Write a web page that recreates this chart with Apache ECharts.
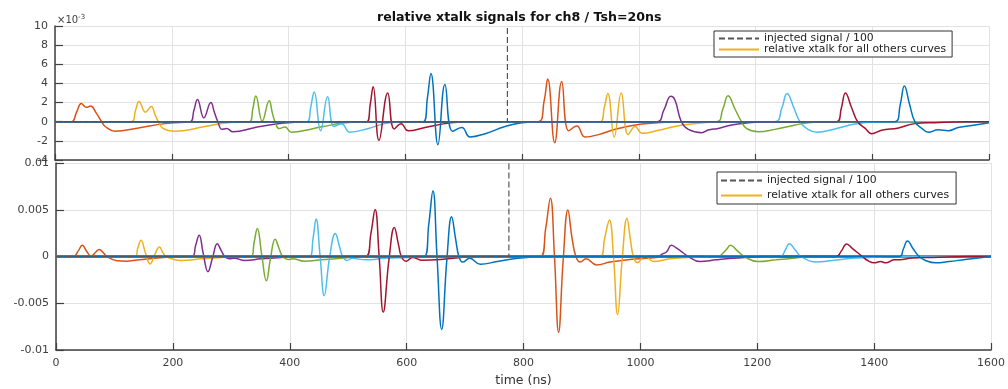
<!DOCTYPE html>
<html>
<head>
<meta charset="utf-8">
<script src="https://cdn.jsdelivr.net/npm/echarts@6/dist/echarts.min.js"></script>
<style>
html,body{margin:0;padding:0;background:#fff;}
#chart{width:1008px;height:389px;}
</style>
</head>
<body>
<div id="chart"></div>
<script>
// ---------------- DATA ----------------
const channelNames = ['ch1','ch2','ch3','ch4','ch5','ch6','ch7','ch9','ch10','ch11','ch12','ch13','ch14','ch15'];

// top panel values, in units of 1e-3
const top_ch1  = [[0,0],[28,0],[37,1.0],[45,1.9],[54,1.5],[61,1.65],[71,0.87],[80,0],[86,-0.5],[103,-1.0],[143,-0.65],[188,-0.2],[228,-0.05],[300,0],[1600,0]];
const top_ch2  = [[0,0],[131,0],[138,1.2],[144,2.1],[155,1.0],[165,1.6],[171,0.8],[177,0],[185,-0.7],[205,-1.0],[257,-0.5],[296,-0.1],[330,0],[1600,0]];
const top_ch3  = [[0,0],[231,0],[238,1.2],[244,2.33],[255,0.4],[267,2.0],[273,1.0],[279,0],[286,-0.8],[294,-0.7],[305,-1.06],[343,-0.6],[388,-0.17],[411,-0.05],[450,0],[1600,0]];
const top_ch4  = [[0,0],[333,0],[339,1.4],[344,2.68],[355,0.07],[367,2.2],[372,1.0],[377,0],[384,-0.72],[394,-0.55],[405,-1.1],[440,-0.75],[474,-0.33],[497,-0.1],[530,0],[1600,0]];
const top_ch5  = [[0,0],[432,0],[438,1.5],[444,3.1],[455,-0.95],[467,2.6],[478,-0.5],[491,-0.2],[505,-1.1],[537,-0.7],[565,-0.2],[588,-0.05],[620,0],[1600,0]];
const top_ch6  = [[0,0],[534,0],[540,1.8],[545,3.65],[555,-1.95],[570,3.0],[581,-0.75],[593,-0.2],[605,-0.95],[634,-0.6],[668,-0.2],[694,-0.05],[720,0],[1600,0]];
const top_ch7  = [[0,0],[631,0],[638,2.5],[644,5.04],[656,-2.4],[668,3.9],[681,-1.0],[697,-0.6],[711,-1.6],[737,-1.25],[771,-0.5],[800,-0.1],[830,0],[1600,0]];
const top_ch9  = [[0,0],[828,0],[838,2.2],[844,4.45],[856,-2.2],[868,4.2],[880,-0.95],[894,-0.45],[908,-1.6],[931,-1.35],[965,-0.7],[1005,-0.25],[1045,-0.05],[1080,0],[1600,0]];
const top_ch10 = [[0,0],[934,0],[941,1.5],[947,2.95],[958,-1.6],[970,3.0],[982,-1.35],[994,-0.5],[1006,-1.2],[1034,-0.9],[1062,-0.5],[1090,-0.25],[1120,-0.05],[1150,0],[1600,0]];
const top_ch11 = [[0,0],[1031,0],[1043,1.2],[1055,2.65],[1062,2.26],[1073,0],[1085,-0.8],[1108,-1.15],[1119,-0.87],[1136,-0.7],[1159,-0.35],[1188,-0.1],[1220,0],[1600,0]];
const top_ch12 = [[0,0],[1133,0],[1144,1.3],[1153,2.7],[1165,1.3],[1176,0],[1185,-0.72],[1205,-1.05],[1233,-0.8],[1268,-0.35],[1290,-0.1],[1320,0],[1600,0]];
const top_ch13 = [[0,0],[1233,0],[1245,1.4],[1254,2.95],[1266,1.4],[1276,0],[1288,-0.72],[1305,-1.1],[1336,-0.75],[1370,-0.25],[1393,-0.05],[1420,0],[1600,0]];
const top_ch14 = [[0,0],[1339,0],[1347,1.4],[1354,3.0],[1365,1.4],[1375,0],[1388,-0.7],[1399,-1.25],[1416,-0.9],[1445,-0.65],[1473,-0.2],[1507,-0.1],[1560,0],[1600,0]];
const top_ch15 = [[0,0],[1439,0],[1448,1.8],[1455,3.72],[1464,1.8],[1473,0],[1485,-0.7],[1496,-1.1],[1513,-0.85],[1530,-0.95],[1547,-0.6],[1576,-0.35],[1600,-0.1]];
const top_injected = [[0,0],[775,0],[775,100],[1600,100]];

// bottom panel values
const bot_ch1  = [[0,0],[30,0],[38,0.0006],[45,0.00119],[53,0.0005],[60,0.00004],[67,0.0004],[74,0.00076],[81,0.0004],[87,0],[104,-0.00045],[121,-0.0005],[135,-0.0004],[169,-0.0002],[198,-0.00005],[230,0],[1600,0]];
const bot_ch2  = [[0,0],[135,0],[140,0.0009],[145.5,0.00173],[153,0.0004],[161,-0.00079],[169,0.0002],[177,0.00101],[183,0.0004],[188,0],[198,-0.00025],[215,-0.00043],[249,-0.00025],[283,-0.0001],[320,0],[1600,0]];
const bot_ch3  = [[0,0],[233,0],[239,0.0012],[245,0.00227],[252,0.0003],[260,-0.00162],[268,-0.0001],[276,0.00137],[283,0.0006],[289,0],[297,-0.00025],[305,-0.00018],[323,-0.00043],[351,-0.00025],[385,-0.0001],[420,0],[1600,0]];
const bot_ch4  = [[0,0],[334,0],[339,0.0015],[344.5,0.003],[352,0.0002],[360,-0.0026],[367,-0.0002],[375,0.00184],[382,0.0008],[388,0],[397,-0.00032],[405,-0.00025],[425,-0.0005],[454,-0.00036],[488,-0.0002],[520,0],[1600,0]];
const bot_ch5  = [[0,0],[434,0],[440,0.002],[445,0.004],[452,0],[459,-0.0042],[468,-0.0002],[478,0.00245],[485,0.0011],[490.5,0],[498,-0.00043],[507,-0.0002],[530,-0.00036],[562,-0.0002],[601,-0.0001],[640,0],[1600,0]];
const bot_ch6  = [[0,0],[530,0],[539,0.0025],[546,0.00504],[553,0],[560,-0.00594],[570,-0.0002],[579,0.0031],[586,0.0013],[591,0],[599,-0.0005],[610,-0.0001],[627,-0.0004],[658,-0.00032],[692,-0.0001],[730,0],[1600,0]];
const bot_ch7  = [[0,0],[630,0],[638,0.0035],[645,0.00702],[652,0],[660,-0.0078],[669,-0.0002],[677,0.00425],[684,0.0018],[689.5,0],[696,-0.0006],[708,-0.0002],[726,-0.00082],[755,-0.00054],[783,-0.00025],[806,-0.0001],[840,0],[1600,0]];
const bot_ch9  = [[0,0],[829,0],[838,0.003],[846,0.00623],[853,0],[860,-0.0081],[868,-0.0003],[876,0.00497],[883,0.002],[889.6,0],[897,-0.0006],[907,-0.00025],[925,-0.0009],[948,-0.0006],[982,-0.00032],[1011,-0.0002],[1050,0],[1600,0]];
const bot_ch10 = [[0,0],[931,0],[939,0.002],[947,0.0039],[954,0],[961,-0.0062],[969,-0.0002],[977,0.0041],[983,0.0018],[988,0],[995,-0.00065],[1008,0.0001],[1022,-0.00054],[1051,-0.00025],[1080,-0.0001],[1110,0],[1600,0]];
const bot_ch11 = [[0,0],[1028,0],[1039,0.0003],[1045,0.0005],[1053,0.00119],[1062,0.0009],[1073,0.0004],[1082,0],[1102,-0.00054],[1130,-0.00036],[1158,-0.0002],[1181,-0.0001],[1210,0],[1600,0]];
const bot_ch12 = [[0,0],[1133,0],[1142,0.0004],[1148,0.0008],[1154,0.00119],[1166,0.0006],[1178,0],[1201,-0.00054],[1232,-0.00036],[1266,-0.00015],[1284,-0.00005],[1300,0],[1600,0]];
const bot_ch13 = [[0,0],[1239,0],[1248,0.0007],[1255,0.00137],[1265,0.0007],[1275,0],[1301,-0.0006],[1329,-0.00043],[1363,-0.0002],[1392,-0.0001],[1420,0],[1600,0]];
const bot_ch14 = [[0,0],[1335,0],[1344,0.0006],[1353,0.00134],[1363,0.00085],[1380,0],[1389,-0.00043],[1400,-0.00068],[1411,-0.00054],[1420,-0.00068],[1434,-0.00036],[1448,-0.00032],[1465,-0.00015],[1500,-0.0001],[1560,0],[1600,0]];
const bot_ch15 = [[0,0],[1443,0],[1450,0.0008],[1457,0.00166],[1467,0.0008],[1477,0],[1488,-0.00043],[1505,-0.00068],[1528,-0.00054],[1556,-0.00032],[1585,-0.0001],[1600,0]];
const bot_injected = [[0,0],[775,0],[775,1],[1600,1]];

const topSeriesData = [top_ch1,top_ch2,top_ch3,top_ch4,top_ch5,top_ch6,top_ch7,top_ch9,top_ch10,top_ch11,top_ch12,top_ch13,top_ch14,top_ch15];
const botSeriesData = [bot_ch1,bot_ch2,bot_ch3,bot_ch4,bot_ch5,bot_ch6,bot_ch7,bot_ch9,bot_ch10,bot_ch11,bot_ch12,bot_ch13,bot_ch14,bot_ch15];

const legendInjected = 'injected signal / 100';
const legendXtalk = 'relative xtalk for all others curves';
const titleText = 'relative xtalk signals for ch8 / Tsh=20ns';
const xAxisTitle = 'time (ns)';

// ---------------- STYLE ----------------
const C = {blue:'#0072BD', orange:'#D95319', yellow:'#EDB120', purple:'#7E2F8E', green:'#77AC30', lightblue:'#4DBEEE', darkred:'#A2142F'};
const colorOrder = [C.orange,C.yellow,C.purple,C.green,C.lightblue,C.darkred,C.blue,C.orange,C.yellow,C.purple,C.green,C.lightblue,C.darkred,C.blue];
const FONT = 'DejaVu Sans';
const axisCol = '#404040';
const gridCol = '#e2e2e2';
const labelCol = '#404040';

function seriesFor(dataList, axisIdx) {
  return dataList.map((d, i) => ({
    type: 'line',
    name: colorOrder[i] === C.yellow ? legendXtalk : channelNames[i],
    xAxisIndex: axisIdx, yAxisIndex: axisIdx,
    data: d,
    symbol: 'none', showSymbol: false,
    smooth: 0.45,
    lineStyle: {width: 1.5, color: colorOrder[i]},
    itemStyle: {color: colorOrder[i]},
    silent: true
  }));
}
function injectedSeries(d, axisIdx) {
  return {
    type: 'line', name: legendInjected,
    xAxisIndex: axisIdx, yAxisIndex: axisIdx,
    data: d, symbol: 'none', showSymbol: false,
    lineStyle: {width: 1.2, color: '#555', type: [6, 3]},
    itemStyle: {color: '#555'},
    silent: true, z: 3
  };
}

const xAxisCommon = {
  type: 'value', min: 0, max: 1600, interval: 200,
  axisLine: {show: true, onZero: false, lineStyle: {color: axisCol, width: 1.5}},
  axisTick: {show: true, inside: true, length: 6, lineStyle: {color: axisCol, width: 1.2}},
  splitLine: {show: true, lineStyle: {color: gridCol, width: 1}},
};
const yAxisCommon = {
  type: 'value',
  axisLine: {show: true, onZero: false, lineStyle: {color: axisCol, width: 1.5}},
  axisTick: {show: true, inside: true, length: 8, lineStyle: {color: axisCol, width: 1.2}},
  splitLine: {show: true, lineStyle: {color: gridCol, width: 1}},
  axisLabel: {color: labelCol, fontFamily: FONT, fontSize: 11, margin: 7}
};
const legendCommon = {
  orient: 'vertical',
  data: [legendInjected, legendXtalk],
  borderColor: '#333', borderWidth: 1, backgroundColor: '#fff',
  itemStyle: {opacity: 0, borderWidth: 0},
  selectedMode: false
};

const chart = echarts.init(document.getElementById('chart'), null, {renderer: 'canvas'});
chart.setOption({
  animation: false,
  backgroundColor: '#fff',
  title: {
    text: titleText, left: 377, top: 11, padding: 0,
    textStyle: {fontFamily: FONT, fontWeight: 'bold', fontSize: 12.6, color: '#111'}
  },
  graphic: [{
    type: 'text', left: 57, top: 14,
    style: {
      text: '{a|×10}{b|-3}',
      rich: {
        a: {fontFamily: FONT, fontSize: 10, fill: labelCol},
        b: {fontFamily: FONT, fontSize: 7, fill: labelCol, verticalAlign: 'top', padding: [0,0,6,0]}
      }
    }
  }],
  legend: [
    Object.assign({}, legendCommon, {
      left: 714, top: 31,
      itemWidth: 40, itemHeight: 10, itemGap: 0,
      padding: [2, 6, 2, 4],
      textStyle: {fontFamily: FONT, fontSize: 10.8, lineHeight: 10, color: '#222'}
    }),
    Object.assign({}, legendCommon, {
      left: 717, top: 172,
      itemWidth: 41, itemHeight: 12, itemGap: 2,
      padding: [2, 7, 2, 3],
      textStyle: {fontFamily: FONT, fontSize: 10.8, lineHeight: 13, color: '#222'}
    })
  ],
  grid: [
    {left: 55, top: 26, width: 934, height: 134, containLabel: false},
    {left: 56, top: 163, width: 937, height: 187, containLabel: false}
  ],
  xAxis: [
    Object.assign({}, xAxisCommon, {gridIndex: 0, axisLabel: {show: false}}),
    Object.assign({}, xAxisCommon, {
      gridIndex: 1,
      axisTick: {show: true, inside: true, length: 7, lineStyle: {color: axisCol, width: 1.2}},
      axisLabel: {color: labelCol, fontFamily: FONT, fontSize: 11, margin: 8, formatter: v => String(v)},
      name: xAxisTitle, nameLocation: 'middle', nameGap: 24,
      nameTextStyle: {color: '#333', fontFamily: FONT, fontSize: 12.5}
    })
  ],
  yAxis: [
    Object.assign({}, yAxisCommon, {gridIndex: 0, min: -4, max: 10, interval: 2}),
    Object.assign({}, yAxisCommon, {gridIndex: 1, min: -0.01, max: 0.01, interval: 0.005,
      axisLabel: Object.assign({}, yAxisCommon.axisLabel, {
        formatter: v => String(parseFloat(v.toFixed(4)))
      })
    })
  ],
  series: [].concat(
    seriesFor(topSeriesData, 0), [injectedSeries(top_injected, 0)],
    seriesFor(botSeriesData, 1), [injectedSeries(bot_injected, 1)]
  )
});
</script>
</body>
</html>
